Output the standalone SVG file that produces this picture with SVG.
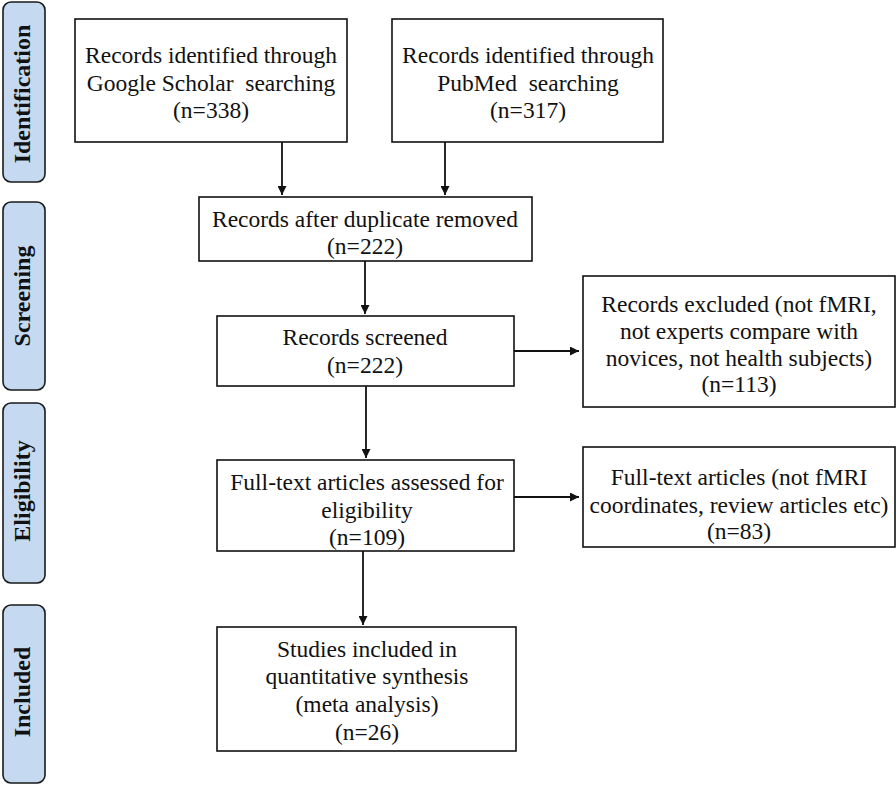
<svg xmlns="http://www.w3.org/2000/svg" width="896" height="786" viewBox="0 0 896 786">
<defs>
<style>
.stage{fill:#c5d9f1;stroke:#1a1a1a;stroke-width:1.6}
.stxt{font-family:"Liberation Serif","Times New Roman",serif;font-weight:bold;font-size:24px;fill:#111;text-anchor:middle}
.box{fill:#fff;stroke:#111;stroke-width:1.6}
.t{font-family:"Liberation Serif","Times New Roman",serif;font-size:23.5px;fill:#111;text-anchor:middle;white-space:pre}
.edge{stroke:#111;stroke-width:1.8;fill:none;marker-end:url(#ah)}
</style>
<marker id="ah" viewBox="0 0 10 10" refX="10" refY="5" markerWidth="5" markerHeight="5" orient="auto" markerUnits="strokeWidth">
<path d="M0,0 L10,5 L0,10 z" fill="#111"/>
</marker>
</defs>
<rect width="896" height="786" fill="#fff"/>
<g id="stage-identification"><rect class="stage" x="3" y="2" width="42" height="180" rx="8"/><text class="stxt" transform="translate(30,94) rotate(-90)">Identification</text></g>
<g id="stage-screening"><rect class="stage" x="3" y="202" width="42" height="188" rx="8"/><text class="stxt" transform="translate(30,296) rotate(-90)">Screening</text></g>
<g id="stage-eligibility"><rect class="stage" x="3" y="403" width="42" height="180" rx="8"/><text class="stxt" transform="translate(30,491) rotate(-90)">Eligibility</text></g>
<g id="stage-included"><rect class="stage" x="3" y="605" width="42" height="178" rx="8"/><text class="stxt" transform="translate(30,692) rotate(-90)">Included</text></g>

<g id="connectors">
<line class="edge" x1="282" y1="142" x2="282" y2="195"/>
<line class="edge" x1="445" y1="142" x2="445" y2="195"/>
<line class="edge" x1="365" y1="261" x2="365" y2="314"/>
<line class="edge" x1="514" y1="351" x2="579" y2="351"/>
<line class="edge" x1="366" y1="386" x2="366" y2="458"/>
<line class="edge" x1="514" y1="497" x2="579" y2="497"/>
<line class="edge" x1="363" y1="551" x2="363" y2="625"/>
</g>

<g id="node-google"><rect class="box" x="75" y="19" width="272" height="123"/>
<text class="t" x="211" y="63">Records identified through</text>
<text class="t" x="211" y="91" xml:space="preserve">Google Scholar  searching</text>
<text class="t" x="211" y="118">(n=338)</text></g>

<g id="node-pubmed"><rect class="box" x="392" y="19" width="271" height="123"/>
<text class="t" x="528" y="63">Records identified through</text>
<text class="t" x="528" y="91" xml:space="preserve">PubMed  searching</text>
<text class="t" x="528" y="118">(n=317)</text></g>

<g id="node-duplicates"><rect class="box" x="199" y="197" width="333" height="64"/>
<text class="t" x="365" y="227">Records after duplicate removed</text>
<text class="t" x="365" y="254">(n=222)</text></g>

<g id="node-screened"><rect class="box" x="217" y="316" width="297" height="70"/>
<text class="t" x="365" y="345">Records screened</text>
<text class="t" x="365" y="373">(n=222)</text></g>

<g id="node-excluded"><rect class="box" x="583" y="276" width="312" height="131"/>
<text class="t" x="739" y="312">Records excluded (not fMRI,</text>
<text class="t" x="739" y="339">not experts compare with</text>
<text class="t" x="739" y="366">novices, not health subjects)</text>
<text class="t" x="739" y="392">(n=113)</text></g>

<g id="node-fulltext"><rect class="box" x="217" y="460" width="297" height="91"/>
<text class="t" x="367" y="490">Full-text articles assessed for</text>
<text class="t" x="367" y="518">eligibility</text>
<text class="t" x="367" y="545">(n=109)</text></g>

<g id="node-fulltext-excluded"><rect class="box" x="583" y="447" width="312" height="100"/>
<text class="t" x="739" y="485">Full-text articles (not fMRI</text>
<text class="t" x="739" y="513">coordinates, review articles etc)</text>
<text class="t" x="739" y="539">(n=83)</text></g>

<g id="node-included"><rect class="box" x="217" y="627" width="299" height="124"/>
<text class="t" x="367" y="657">Studies included in</text>
<text class="t" x="367" y="684">quantitative synthesis</text>
<text class="t" x="367" y="712">(meta analysis)</text>
<text class="t" x="367" y="740">(n=26)</text></g>
</svg>
